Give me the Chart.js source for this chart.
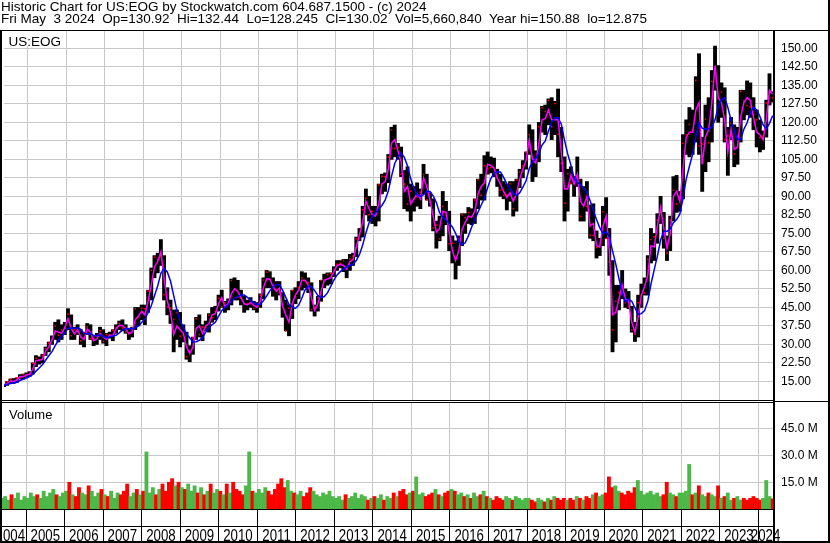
<!DOCTYPE html>
<html><head><meta charset="utf-8">
<script src="https://cdn.jsdelivr.net/npm/chart.js@4.4.1/dist/chart.umd.min.js"></script>
<style>
html,body{margin:0;padding:0;background:#fff;}
#wrap{position:relative;width:830px;height:543px;overflow:hidden;font-family:"Liberation Sans",Arial,sans-serif;color:#000;}
canvas{position:absolute;left:0;top:0;}
.ln{position:absolute;background:#000;z-index:5;}
.txt{position:absolute;white-space:pre;line-height:15px;z-index:6;}
</style></head><body>
<div id="wrap">
<canvas id="cp" width="830" height="543"></canvas>
<canvas id="cv" width="830" height="543"></canvas>
<div class="txt" style="left:1px;top:-1.5px;font-size:13.5px;">Historic Chart for US:EOG by Stockwatch.com 604.687.1500 - (c) 2024</div>
<div class="txt" style="left:1px;top:11px;font-size:13.5px;">Fri May  3 2024  Op=130.92  Hi=132.44  Lo=128.245  Cl=130.02  Vol=5,660,840  Year hi=150.88  lo=12.875</div>
<div style="position:absolute;left:2px;top:31px;width:61px;height:15px;background:#fff;z-index:4;"></div>
<div class="txt" style="left:8.5px;top:33.5px;font-size:13.5px;">US:EOG</div>
<div class="txt" style="left:9px;top:406.5px;font-size:13px;">Volume</div>
<div class="ln" style="left:0;top:30px;width:830px;height:1px;"></div>
<div class="ln" style="left:0;top:30px;width:2px;height:513px;"></div>
<div class="ln" style="left:773px;top:31px;width:2px;height:512px;"></div>
<div class="ln" style="left:828px;top:0;width:2px;height:543px;"></div>
<div class="ln" style="left:0;top:541px;width:830px;height:2px;"></div>
<div class="ln" style="left:0;top:400px;width:775px;height:1px;"></div>
<div class="ln" style="left:0;top:402px;width:775px;height:1px;"></div>
<div class="ln" style="left:775px;top:401px;width:55px;height:1px;"></div>
<div class="ln" style="left:0;top:526px;width:775px;height:1px;"></div>
</div>
<script>
// ---- data (monthly, May 2004 .. May 2024) ----
const startYear = 2004, startMonth = 5;
const years = [2004,2005,2006,2007,2008,2009,2010,2011,2012,2013,2014,2015,2016,2017,2018,2019,2020,2021,2022,2023,2024];
const priceTicks = [15,22.5,30,37.5,45,52.5,60,67.5,75,82.5,90,97.5,105,112.5,120,127.5,135,142.5,150];
const volumeTicks = [15,30,45];

const lows = [12.9,13.4,14.5,14.2,14.5,16.0,16.0,16.8,
17.0,18.0,21.0,22.0,22.5,25.5,27.0,30.0,32.0,31.0,32.0,34.0,
36.0,32.0,32.0,34.0,30.0,29.0,34.0,32.0,29.5,30.0,32.0,30.5,
29.5,32.5,31.5,34.5,36.0,35.5,34.5,32.0,33.0,36.0,37.5,40.0,
38.0,43.0,48.0,57.0,59.0,62.0,48.0,42.0,38.5,27.0,32.0,29.0,
31.0,24.0,23.0,26.0,32.0,33.0,31.5,35.5,35.0,39.0,40.0,43.5,
45.0,43.0,44.0,46.0,48.0,48.0,46.0,43.0,44.0,45.0,44.0,43.0,
45.0,48.5,53.0,53.0,49.5,48.0,50.0,41.0,35.5,33.5,40.5,46.5,
48.5,52.0,53.0,51.0,43.5,41.5,43.5,47.5,53.0,54.0,54.5,57.5,
60.0,61.0,59.5,57.0,60.0,62.0,65.5,72.0,73.5,82.5,80.0,79.0,
78.0,80.0,91.0,92.0,95.5,105.0,106.0,105.0,98.0,85.0,84.0,80.0,
84.0,86.0,85.0,91.0,88.5,86.0,76.0,69.0,72.0,74.0,78.5,68.0,
63.0,56.5,62.0,70.0,75.0,79.0,78.5,79.0,85.0,88.5,88.5,99.0,
99.5,98.0,94.0,90.0,89.0,84.5,88.0,82.0,84.0,93.5,97.5,101.0,
107.0,96.0,98.0,104.0,116.0,115.0,119.0,113.0,115.0,106.0,100.0,80.0,
84.0,95.0,90.0,94.0,80.0,80.0,84.0,73.0,72.0,65.0,66.0,70.0,
73.0,58.0,27.0,31.0,44.0,48.5,45.0,44.5,35.0,31.2,33.0,45.0,
50.0,50.0,63.0,64.0,71.0,79.0,69.0,64.0,68.0,80.0,83.5,84.0,
89.0,107.0,106.0,107.0,112.0,107.0,92.0,100.0,104.0,112.0,133.0,120.0,
122.0,112.0,98.5,113.0,102.0,103.0,112.0,121.0,123.0,122.0,117.0,110.0,
108.0,109.0,114.0,127.0,128.2];

const highs = [13.9,15.0,16.0,16.2,16.5,17.8,18.0,18.5,
19.0,22.5,25.5,25.0,26.0,29.0,31.0,33.5,39.0,40.0,38.0,39.0,
44.5,42.0,37.0,38.0,36.0,35.0,38.5,38.0,33.5,34.5,37.0,36.0,
34.5,35.0,36.0,38.0,39.5,40.0,38.0,36.5,37.0,45.0,45.0,46.0,
46.0,52.0,61.0,66.0,67.0,72.5,66.0,53.0,48.0,44.0,44.0,43.0,
38.0,35.0,29.5,33.0,41.0,42.0,38.0,39.5,42.5,45.0,45.5,50.0,
52.0,47.5,48.5,56.5,57.0,56.0,52.0,49.5,48.0,49.0,47.5,47.0,
50.5,57.0,60.0,59.5,57.0,55.5,55.5,51.0,48.0,46.0,52.0,53.0,
55.5,59.5,59.0,57.0,55.0,46.0,49.5,56.0,58.5,59.0,59.0,61.5,
64.0,64.0,64.5,64.5,66.5,67.0,73.5,77.0,86.0,93.0,90.0,86.0,
86.0,95.0,99.0,99.5,107.0,118.0,118.9,111.5,110.0,100.5,102.0,95.0,
94.0,95.5,93.0,103.0,99.0,91.5,89.0,80.0,82.0,92.0,88.0,84.0,
74.0,72.0,74.0,83.0,83.0,85.5,85.0,89.0,97.0,99.0,106.5,108.0,
106.0,105.5,101.0,99.0,96.0,95.0,96.0,96.0,97.0,101.0,104.5,108.0,
119.0,117.0,108.5,120.0,126.5,127.0,129.5,130.0,128.5,133.5,118.0,106.0,
101.0,102.0,98.0,106.0,97.0,94.0,96.0,86.5,87.0,76.0,73.0,86.0,
89.5,77.0,64.0,54.0,54.0,60.0,52.5,51.5,45.5,39.0,50.0,54.5,
57.0,66.0,77.0,75.0,83.0,90.0,83.5,74.0,82.0,98.0,98.5,92.0,
115.0,121.0,126.0,125.0,138.5,147.8,114.0,127.0,130.0,141.0,150.9,143.0,
136.0,134.0,118.0,122.0,119.0,118.0,133.0,133.0,136.8,136.0,130.0,125.0,
121.0,116.5,129.0,139.7,132.4];

const closes = [13.5,14.9,15.9,14.7,16.4,16.6,17.8,17.8,
18.0,22.4,24.4,23.8,25.5,28.4,30.5,32.0,37.5,33.7,35.9,36.7,
42.3,33.5,36.0,35.2,31.5,34.7,37.1,32.4,32.5,33.3,35.5,31.2,
34.0,33.7,35.7,37.0,38.6,36.7,35.1,34.5,36.2,44.4,41.1,44.6,
44.5,51.6,60.0,65.3,64.4,65.6,50.2,45.2,44.7,40.2,42.9,33.3,
33.9,25.0,27.4,32.7,40.4,34.0,37.1,37.0,41.8,40.8,43.4,48.7,
45.2,46.9,46.5,55.9,52.3,49.2,48.7,46.4,46.5,47.9,44.6,45.7,
50.0,56.1,59.3,56.4,53.5,52.3,51.0,46.3,35.5,44.7,51.9,49.3,
53.1,57.0,55.6,54.9,44.2,45.0,49.0,55.9,56.0,58.3,58.8,60.4,
62.5,62.9,64.0,60.6,64.6,65.8,72.8,74.5,84.6,89.2,82.5,83.9,
82.5,94.6,98.1,98.0,105.9,116.9,109.4,109.8,99.0,95.0,86.9,92.1,
89.0,89.8,91.7,98.9,88.6,87.6,77.2,78.3,72.8,85.9,83.4,70.8,
71.0,64.7,72.6,82.6,81.4,83.4,81.7,88.5,96.7,90.4,102.4,101.1,
101.6,99.6,97.6,92.5,90.4,90.5,95.1,85.0,96.7,99.9,102.3,107.9,
115.0,106.0,105.3,118.2,125.9,124.4,128.9,118.2,127.6,115.2,103.3,87.2,
99.2,95.3,95.2,96.0,81.9,93.2,85.9,74.2,74.2,69.3,70.7,83.8,
72.9,63.4,35.9,47.5,51.0,50.7,46.9,45.3,35.9,34.2,46.9,49.9,
50.9,64.5,72.5,73.6,80.4,83.4,73.0,67.0,80.3,92.5,87.0,88.8,
111.5,115.0,119.2,116.8,137.0,110.4,111.2,121.3,111.7,136.6,142.0,129.5,
132.3,113.0,114.6,119.5,107.3,114.4,132.5,128.7,126.8,126.2,123.1,121.0,
113.8,114.3,127.8,132.1,130.0];

// magenta (fast moving average) read per month
const maFast = [13.4,14.1,15.2,15.0,15.6,17.0,16.9,17.6,
17.9,20.0,23.5,23.5,24.0,27.2,29.0,31.8,35.5,35.0,34.5,36.8,
40.5,36.5,34.3,36.0,33.0,32.0,36.3,35.0,31.5,32.3,34.5,33.0,
32.0,33.8,33.6,36.3,37.8,37.7,36.5,34.3,35.0,40.0,41.5,43.5,
42.0,47.5,54.0,61.5,63.5,67.5,57.0,47.5,43.0,34.0,37.5,36.0,
34.5,29.0,26.3,29.0,36.5,37.5,34.5,37.5,38.5,42.0,42.5,46.5,
49.0,45.3,46.5,50.5,52.5,51.5,49.0,46.5,46.0,47.0,45.8,45.0,
47.5,53.0,56.5,56.5,53.5,51.5,52.8,45.5,42.0,39.0,46.5,50.0,
52.0,56.0,56.0,54.0,49.0,43.8,46.5,51.5,56.0,56.5,57.0,59.5,
62.0,62.5,62.0,60.5,63.5,64.5,69.5,74.5,79.5,88.0,85.0,82.5,
82.0,87.0,95.0,96.0,101.0,111.5,113.0,108.5,104.0,92.0,94.0,87.0,
89.0,91.0,89.0,97.5,94.0,88.5,82.0,75.5,77.0,84.0,83.5,75.5,
68.0,64.0,68.0,76.5,79.5,82.0,81.5,84.0,91.0,94.0,95.5,103.0,
102.5,101.5,97.5,95.0,92.0,89.5,91.5,88.0,91.0,97.0,101.0,104.5,
113.0,105.0,103.5,111.5,121.0,121.5,125.0,121.0,121.0,121.0,108.0,93.0,
93.0,98.5,95.0,99.0,88.0,86.0,90.0,78.0,79.0,70.0,69.5,78.0,
82.0,68.0,42.0,43.0,48.5,54.0,48.5,47.5,39.0,35.0,41.0,50.0,
53.5,58.0,70.0,69.5,78.0,85.5,77.0,69.0,75.0,90.0,92.0,88.0,
101.0,114.0,116.0,116.0,125.0,128.0,103.0,114.0,117.0,128.0,143.0,130.0,
128.0,121.0,108.0,117.0,109.0,110.0,122.0,128.0,130.0,129.0,122.0,116.0,
115.0,113.0,121.0,133.0,131.5];

// blue (slow moving average) read per month
const maSlow = [13.4,13.8,14.2,14.4,14.7,15.4,15.9,16.4,
17.0,17.9,19.2,20.5,21.8,23.6,25.4,27.1,29.5,31.7,33.2,34.7,
36.5,36.7,36.5,36.8,36.1,34.4,34.3,34.5,33.6,33.4,33.9,33.3,
32.7,33.1,33.4,33.7,34.7,35.8,36.4,36.5,36.3,36.7,37.5,38.9,
40.4,42.9,45.7,49.7,53.7,58.8,60.7,59.4,55.7,49.8,43.8,39.6,
37.0,34.2,32.7,31.0,31.1,31.7,32.8,35.0,36.9,38.0,39.0,41.4,
43.7,45.1,46.0,47.6,48.8,49.3,50.0,50.0,49.1,48.0,46.9,46.1,
46.3,47.7,49.6,51.7,53.4,54.2,54.2,52.0,49.1,46.2,45.2,44.6,
45.9,48.7,52.1,53.6,53.4,51.8,49.9,49.0,49.4,50.9,53.5,56.1,
58.2,59.5,60.6,61.3,62.1,62.6,64.0,66.5,70.3,75.2,79.3,81.9,
83.4,84.9,86.3,88.5,92.2,98.1,103.3,106.0,107.6,105.8,102.3,97.1,
93.2,90.6,90.0,90.7,92.1,92.0,90.2,87.5,83.4,81.4,80.4,79.1,
77.6,75.0,71.8,70.4,71.2,74.0,77.5,80.7,83.6,86.5,89.2,93.5,
97.2,99.3,100.0,99.9,97.7,95.1,93.1,91.2,90.4,91.4,93.7,96.3,
101.3,104.1,105.4,107.5,110.8,112.5,116.5,120.0,121.9,121.9,119.2,112.8,
107.2,102.7,97.5,95.7,94.7,93.3,91.6,88.2,84.2,80.6,77.3,74.9,
75.7,73.5,67.9,62.6,56.7,51.1,47.2,48.3,47.5,44.8,42.2,42.5,
43.7,47.5,54.5,60.2,65.8,72.2,76.0,75.8,76.9,79.3,80.6,82.8,
89.2,97.0,102.2,107.0,114.4,119.8,117.6,117.2,117.4,118.0,121.0,126.4,
129.2,130.0,126.0,120.8,116.6,113.0,113.2,117.2,119.8,123.8,126.2,125.0,
122.4,119.0,117.4,119.6,122.7];

// volume in millions of shares
const volumes = [6,7,5,8,6,9,5,7,
6,9,7,8,6,10,7,9,11,8,7,9,
10,15,8,7,12,9,8,13,10,7,9,11,
8,7,10,6,9,8,10,14,7,9,11,8,
10,32,9,12,8,11,14,10,15,17,13,15,
12,11,14,10,13,9,12,8,10,14,9,11,
10,8,14,9,15,11,10,8,13,32,10,9,
11,9,12,10,8,11,14,17,12,16,10,9,
8,10,7,9,12,10,8,7,9,8,10,7,
6,7,5,8,6,7,9,6,8,7,5,6,
7,6,8,5,7,6,9,7,10,11,8,9,
10,18,8,9,7,8,9,11,8,7,9,10,
11,10,8,9,7,8,6,9,7,8,10,7,
6,5,7,6,5,7,6,5,7,6,5,6,
6,5,4,6,5,4,6,5,7,6,5,6,
5,6,5,7,6,5,7,6,8,9,7,8,
9,18,12,13,10,9,8,10,9,12,16,10,
8,9,10,8,9,7,8,15,9,8,7,9,
9,10,25,8,9,13,8,7,9,8,7,13,
6,7,9,5,6,7,5,6,5,6,7,6,
5,6,16,7,5.7];

// ---- chart setup ----
const T = lows.map((_, i) => startYear + (startMonth - 1 + i + 0.5) / 12);
const X_MIN = 2004.377, X_MAX = 2024.383;
const FONT = '"Liberation Sans", Arial, sans-serif';
const GRID = '#c8c8c8';
const UP = '#4cb848', DOWN = '#ff0000';
const volColors = closes.map((c, i) => (i === 0 || c >= closes[i - 1]) ? UP : DOWN);
const LABEL_SQUEEZE = 0.78; // year labels use a tall, narrow face

// year labels: centred in the visible part of each year on the library's x scale
const yearLabels = {
  id: 'yearLabels',
  afterDraw(chart) {
    const sx = chart.scales.x, area = chart.chartArea, ctx = chart.ctx;
    ctx.save();
    ctx.font = '17px ' + FONT;
    ctx.fillStyle = '#000';
    ctx.textAlign = 'center';
    ctx.textBaseline = 'alphabetic';
    const base = sx.top + 32;
    years.forEach(y => {
      const p0 = sx.getPixelForValue(y), p1 = sx.getPixelForValue(y + 1);
      const a = Math.max(p0, area.left), b = Math.min(p1, area.right);
      const w = ctx.measureText(String(y)).width * LABEL_SQUEEZE;
      let c = (a + b) / 2;
      if (p1 <= area.right && c + w / 2 > b - 1) c = b - 1 - w / 2;
      ctx.save();
      ctx.translate(c, base);
      ctx.scale(LABEL_SQUEEZE, 1);
      ctx.fillText(String(y), 0, 0);
      ctx.restore();
    });
    ctx.restore();
  }
};

const common = {
  responsive: false, animation: false, devicePixelRatio: 1, events: [],
  plugins: { legend: { display: false }, tooltip: { enabled: false } }
};

new Chart(document.getElementById('cp'), {
  type: 'bar',
  data: { datasets: [
    { type: 'line', data: T.map((t, i) => ({ x: t, y: maSlow[i] })), borderColor: '#0000ff', borderWidth: 1.5, pointRadius: 0, tension: 0, order: 1 },
    { type: 'line', data: T.map((t, i) => ({ x: t, y: maFast[i] })), borderColor: '#ff00ff', borderWidth: 1.5, pointRadius: 0, tension: 0, order: 2 },
    { type: 'line', showLine: false, data: T.map((t, i) => ({ x: t, y: closes[i] })), pointStyle: 'rect', pointRadius: 1.1, pointBackgroundColor: '#ff0000', pointBorderWidth: 0, order: 3 },
    { type: 'bar', data: T.map((t, i) => ({ x: t, y: [lows[i], highs[i]] })), backgroundColor: '#000', borderWidth: 0, barPercentage: 1, categoryPercentage: 1, order: 4 }
  ]},
  options: Object.assign({}, common, {
    layout: { padding: { top: 31, left: 2, right: 0, bottom: 143 } },
    scales: {
      x: { type: 'linear', min: X_MIN, max: X_MAX, offset: false,
        grid: { color: GRID, drawTicks: false, offset: false }, border: { display: false },
        ticks: { display: false },
        afterBuildTicks: s => { s.ticks = years.map(v => ({ value: v })); },
        afterFit: s => { s.height = 0; s.paddingLeft = 0; s.paddingRight = 0; } },
      y: { type: 'linear', position: 'right', min: 7.5, max: 157,
        grid: { color: GRID, drawTicks: false }, border: { display: false },
        ticks: { padding: 8, color: '#000', font: { family: FONT, size: 12 }, callback: v => Number(v).toFixed(2) },
        afterBuildTicks: s => { s.ticks = priceTicks.map(v => ({ value: v })); },
        afterFit: s => { s.width = 57; } }
    }
  })
});

new Chart(document.getElementById('cv'), {
  type: 'bar',
  data: { datasets: [
    { data: T.map((t, i) => ({ x: t, y: volumes[i] })), backgroundColor: volColors, borderWidth: 0, barPercentage: 1, categoryPercentage: 1 }
  ]},
  options: Object.assign({}, common, {
    layout: { padding: { top: 403, left: 2, right: 0, bottom: 0 } },
    scales: {
      x: { type: 'linear', min: X_MIN, max: X_MAX, offset: false,
        grid: { color: GRID, tickColor: '#000', tickLength: 33, offset: false },
        border: { display: true, color: '#000', width: 1 },
        ticks: { display: false },
        afterBuildTicks: s => { s.ticks = years.map(v => ({ value: v })); },
        afterFit: s => { s.height = 34; s.paddingLeft = 0; s.paddingRight = 0; } },
      y: { type: 'linear', position: 'right', min: 0, max: 59.4,
        grid: { color: GRID, drawTicks: false }, border: { display: false },
        ticks: { padding: 8, color: '#000', font: { family: FONT, size: 12 }, callback: v => Number(v).toFixed(1) + ' M' },
        afterBuildTicks: s => { s.ticks = volumeTicks.map(v => ({ value: v })); },
        afterFit: s => { s.width = 57; } }
    }
  }),
  plugins: [yearLabels]
});
</script>
</body></html>
